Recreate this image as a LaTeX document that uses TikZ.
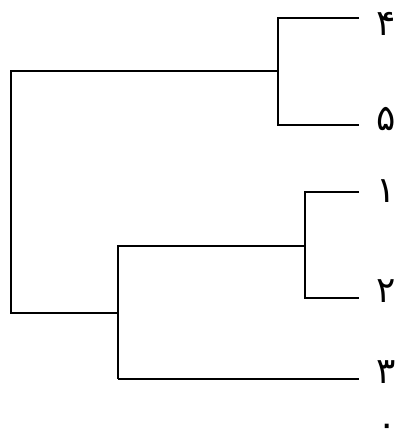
\documentclass[tikz,border=0pt]{standalone}
\usepackage{fontspec}
\newfontfamily\farsifont[Script=Arabic]{DejaVu Sans}
\tikzset{digit/.style={inner sep=0pt,anchor=base,font=\farsifont\fontsize{36}{36}\selectfont}}
\begin{document}
\begin{tikzpicture}[x=1pt,y=-1pt,line width=1.6pt]
		\useasboundingbox (0,0) rectangle (397,437);
		\coordinate (e4) at (359,18);
		\coordinate (e5) at (359,125);
		\coordinate (e1) at (359,192);
		\coordinate (e2) at (359,298);
		\coordinate (e3) at (359,379);
		\coordinate (m45) at (278,71);
		\coordinate (m12) at (305,246);
		\coordinate (m123) at (118,313);
		\coordinate (root) at (11,192);
		\draw (e4) -| (m45) |- (e5);
		\draw (e1) -| (m12) |- (e2);
		\draw (m12) -| (m123);
		\draw (m123 |- e3) -- (e3);
		\draw (m123 |- m12) -- (m123 |- e3);
		\draw (m45) -| (root |- m45) |- (m123);
		\node[digit] (d4) at (386,35) {۴};
		\node[digit] (d5) at (386,130) {۵};
		\node[digit] (d1) at (386,202) {۱};
		\node[digit] (d2) at (386,302) {۲};
		\node[digit] (d3) at (386,383) {۳};
		\node[digit,anchor=center] (d0) at (387,430) {۰};
\end{tikzpicture}
\end{document}
